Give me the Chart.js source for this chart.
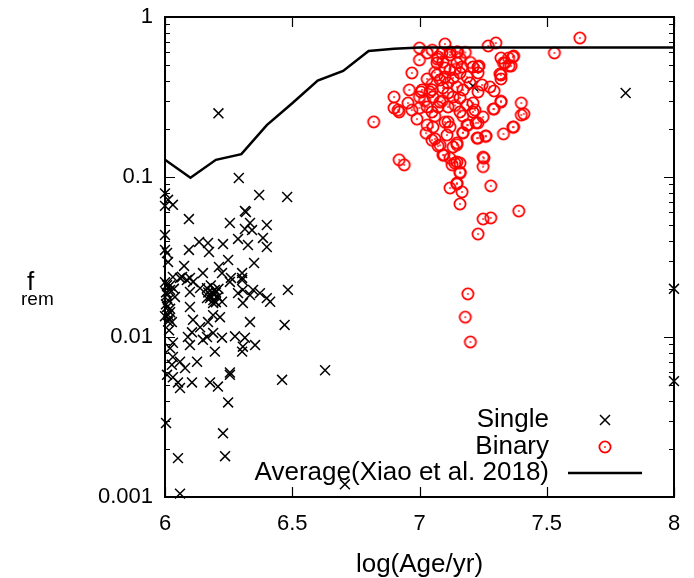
<!DOCTYPE html>
<html>
<head>
<meta charset="utf-8">
<script src="https://cdn.jsdelivr.net/npm/chart.js@4"></script>
<style>
  html, body { margin: 0; padding: 0; background: #fff; }
  canvas { display: block; }
</style>
</head>
<body>
<canvas id="frem" width="694" height="578"></canvas>
<script>
// f_rem versus log(Age/yr): single stars, binaries and the Xiao et al. (2018) average

const xTicks = [6, 6.5, 7, 7.5, 8];
const yTicks = [0.001, 0.01, 0.1, 1];

// average curve (black line)
const avgAge = [6.0, 6.1, 6.2, 6.3, 6.4, 6.5, 6.6, 6.7, 6.8, 6.9, 7.0, 7.1, 7.2, 7.3, 7.4, 7.5, 7.6, 7.7, 7.8, 7.9, 8.0];
const avgFrem = [0.128, 0.099, 0.128, 0.139, 0.211, 0.289, 0.40, 0.46, 0.613, 0.634, 0.645, 0.645, 0.645, 0.645, 0.645, 0.645, 0.645, 0.645, 0.645, 0.645, 0.645];

// single stars [log age, f_rem]
const singlePts = [
  [6.21, 0.25], [6.29, 0.0986], [6.37, 0.0772], [6.48, 0.075], [6.00, 0.079], [6.012, 0.072], [6.031, 0.067], [6.00, 0.066],
  [6.094, 0.0546], [6.318, 0.0604], [6.314, 0.0613], [6.255, 0.0516], [6.334, 0.0516], [6.40, 0.0501], [6.314, 0.0473],
  [6.342, 0.0466], [6.00, 0.0434], [6.287, 0.041], [6.385, 0.0416], [6.134, 0.0393], [6.169, 0.0387], [6.228, 0.0381],
  [6.326, 0.0376], [6.40, 0.0365], [6.094, 0.035], [6.173, 0.034], [6.00, 0.035], [6.008, 0.0335], [6.248, 0.0303],
  [6.012, 0.0294], [6.35, 0.029], [6.075, 0.0278], [6.212, 0.0274], [6.149, 0.0251], [6.303, 0.0251], [6.224, 0.0251],
  [6.031, 0.0237], [6.067, 0.0237], [6.098, 0.0234], [6.259, 0.0234], [6.303, 0.0234],
  [6.008, 0.0211], [6.02, 0.0197], [6.008, 0.0183], [6.039, 0.0178], [6.059, 0.0234], [6.086, 0.0227], [6.11, 0.0221],
  [6.138, 0.0202], [6.098, 0.0191], [6.165, 0.0202], [6.185, 0.0191], [6.196, 0.0197], [6.177, 0.0175], [6.208, 0.0178],
  [6.224, 0.0166], [6.189, 0.0163], [6.255, 0.0221], [6.303, 0.0227], [6.306, 0.0197], [6.287, 0.0188], [6.346, 0.0197],
  [6.334, 0.0183], [6.373, 0.0188], [6.40, 0.0175], [6.413, 0.0166], [6.306, 0.0163], [6.483, 0.0197], [6.098, 0.0154],
  [6.216, 0.0133], [6.334, 0.0124], [6.11, 0.0128], [6.138, 0.0115], [6.169, 0.0124], [6.189, 0.0137], [6.47, 0.0119],
  [6.008, 0.0154], [6.012, 0.0137], [6.027, 0.0124], [6.02, 0.0143], [6.106, 0.0107], [6.09, 0.01], [6.165, 0.01],
  [6.189, 0.0106], [6.224, 0.0099], [6.275, 0.0101], [6.314, 0.0099], [6.149, 0.0096], [6.031, 0.0092], [6.02, 0.0085],
  [6.098, 0.0089], [6.306, 0.0087], [6.354, 0.0089], [6.196, 0.0081], [6.303, 0.0081], [6.031, 0.0075], [6.059, 0.007],
  [6.126, 0.007], [6.027, 0.0067], [6.079, 0.0064], [6.255, 0.006], [6.629, 0.0062],
  [6.008, 0.0058], [6.031, 0.0056], [6.051, 0.0052], [6.059, 0.0048], [6.106, 0.0052], [6.177, 0.0052], [6.208, 0.0049],
  [6.255, 0.0058], [6.46, 0.0054], [6.248, 0.0039], [6.004, 0.0029], [6.228, 0.0025], [6.051, 0.00175], [6.236, 0.0018],
  [6.059, 0.00105],
  [7.81, 0.335], [8.0, 0.02], [8.0, 0.0053], [6.707, 0.0012], [7.21, 0.37],
  [6.0, 0.022], [6.004, 0.016], [6.016, 0.013], [6.18, 0.018], [6.2, 0.019], [6.19, 0.017], [6.012, 0.0125], [6.02, 0.021],
  [6.004, 0.019], [6.012, 0.017], [6.02, 0.015], [6.0, 0.0135], [6.016, 0.011], [6.035, 0.02], [6.17, 0.019],
  [6.18, 0.021], [6.2, 0.0165], [6.21, 0.02], [6.19, 0.0185], [6.165, 0.0175]
];

// binaries [log age, f_rem]
const binaryPts = [
  [7.63, 0.739], [7.53, 0.596], [7.30, 0.688], [7.27, 0.659], [7.10, 0.678], [7.00, 0.64], [7.03, 0.596], [7.00, 0.539],
  [7.07, 0.546], [7.12, 0.605], [7.15, 0.605], [7.32, 0.554], [7.35, 0.554], [7.37, 0.57], [7.36, 0.494], [7.33, 0.516],
  [6.97, 0.447], [7.32, 0.434], [7.32, 0.41], [7.23, 0.487], [7.23, 0.447], [6.96, 0.35], [6.90, 0.316], [6.90, 0.27],
  [6.92, 0.255], [6.82, 0.221], [6.97, 0.262], [7.0, 0.27], [7.03, 0.274], [7.006, 0.34], [7.049, 0.35], [7.21, 0.255],
  [7.25, 0.237], [7.23, 0.218], [7.29, 0.266], [7.32, 0.294], [7.40, 0.29], [7.40, 0.244], [7.41, 0.248], [7.37, 0.205],
  [7.33, 0.186], [7.23, 0.175], [7.26, 0.18], [7.19, 0.211], [7.17, 0.189], [7.03, 0.211], [7.053, 0.205], [7.026, 0.188],
  [7.061, 0.173], [7.073, 0.156], [7.108, 0.183], [7.12, 0.205], [7.147, 0.163], [6.92, 0.128], [6.94, 0.119],
  [7.096, 0.137], [7.12, 0.131], [7.128, 0.119], [7.147, 0.124], [7.159, 0.122], [7.25, 0.133], [7.25, 0.116],
  [7.16, 0.106], [7.28, 0.088], [7.147, 0.0904], [7.12, 0.0853], [7.167, 0.0806], [7.159, 0.0678], [7.39, 0.0613],
  [7.25, 0.0546], [7.28, 0.0555], [7.23, 0.044], [7.19, 0.0186], [7.18, 0.0133], [7.20, 0.0093],
  [7.147, 0.604], [7.12, 0.579], [7.088, 0.596], [7.073, 0.562], [7.092, 0.523], [7.069, 0.516], [7.10, 0.48],
  [7.147, 0.516], [7.167, 0.487], [7.12, 0.466], [7.069, 0.434], [7.081, 0.404], [7.10, 0.422], [7.112, 0.387],
  [7.132, 0.416], [7.159, 0.447], [7.187, 0.422], [7.198, 0.387], [7.171, 0.35], [7.147, 0.365], [7.092, 0.36],
  [7.112, 0.335], [7.132, 0.316], [7.159, 0.312], [7.21, 0.487], [7.01, 0.35], [7.0, 0.316], [7.041, 0.34], [7.053, 0.316],
  [7.049, 0.255], [7.073, 0.274], [7.081, 0.294], [7.112, 0.274], [7.159, 0.255], [7.187, 0.282], [7.21, 0.29],
  [7.218, 0.262], [6.955, 0.29], [6.916, 0.262], [7.049, 0.17], [7.081, 0.158], [7.132, 0.154], [7.112, 0.221],
  [7.187, 0.211], [7.171, 0.189], [7.226, 0.175], [7.147, 0.159], [7.092, 0.137], [7.139, 0.122], [7.159, 0.107],
  [7.147, 0.0916],
  [7.336, 0.516], [7.352, 0.494], [7.367, 0.562], [7.234, 0.494], [7.316, 0.44], [7.246, 0.376], [7.277, 0.365],
  [7.293, 0.345], [7.23, 0.34], [7.32, 0.298], [7.293, 0.266], [7.222, 0.218], [7.367, 0.205], [7.261, 0.18], [7.253, 0.131],
  [7.05, 0.62], [7.16, 0.55], [7.18, 0.6], [7.2, 0.52], [7.14, 0.47], [7.06, 0.45], [7.03, 0.41], [7.05, 0.38],
  [7.09, 0.3], [7.14, 0.28], [7.06, 0.24], [7.1, 0.22], [7.17, 0.24], [6.99, 0.23], [7.02, 0.3]
];

const FONT = '"Liberation Sans", Arial, sans-serif';

// red open circle with a dot in the middle (gnuplot point type 6-ish)
function makeCircleDot() {
  const c = document.createElement('canvas');
  c.width = 16; c.height = 16;
  const g = c.getContext('2d');
  g.strokeStyle = '#ff0000';
  g.lineWidth = 1.8;
  g.beginPath();
  g.arc(8, 8, 5.6, 0, Math.PI * 2);
  g.stroke();
  g.fillStyle = '#ff0000';
  g.fillRect(7.2, 7.2, 1.6, 1.6);
  return c;
}
const circleDot = makeCircleDot();

// frame, inward ticks, axis titles and legend, gnuplot style
const decorPlugin = {
  id: 'decor',
  afterDraw(chart) {
    const ctx = chart.ctx;
    const a = chart.chartArea;
    const xs = chart.scales.x, ys = chart.scales.y;
    ctx.save();
    ctx.strokeStyle = '#000';

    // x ticks (bottom and top)
    ctx.lineWidth = 1.2;
    ctx.beginPath();
    xTicks.forEach(v => {
      const px = Math.round(xs.getPixelForValue(v)) + 0.5;
      ctx.moveTo(px, a.bottom); ctx.lineTo(px, a.bottom - 10);
      ctx.moveTo(px, a.top); ctx.lineTo(px, a.top + 10);
    });
    // y ticks, major and minor (left and right)
    yTicks.forEach((v, i) => {
      const py = Math.round(ys.getPixelForValue(v)) + 0.5;
      ctx.moveTo(a.left, py); ctx.lineTo(a.left + 10, py);
      ctx.moveTo(a.right, py); ctx.lineTo(a.right - 10, py);
      if (i < yTicks.length - 1) {
        for (let m = 2; m <= 9; m++) {
          const pm = Math.round(ys.getPixelForValue(v * m)) + 0.5;
          ctx.moveTo(a.left, pm); ctx.lineTo(a.left + 5, pm);
          ctx.moveTo(a.right, pm); ctx.lineTo(a.right - 5, pm);
        }
      }
    });
    ctx.stroke();

    // frame
    ctx.lineWidth = 2;
    ctx.strokeRect(a.left, a.top, a.right - a.left, a.bottom - a.top);

    // axis titles
    ctx.fillStyle = '#000';
    ctx.textBaseline = 'alphabetic';
    ctx.textAlign = 'center';
    ctx.font = '26px ' + FONT;
    ctx.fillText('log(Age/yr)', (a.left + a.right) / 2, 572);
    ctx.textAlign = 'left';
    ctx.fillText('f', 27, 290);
    ctx.font = '19px ' + FONT;
    ctx.fillText('rem', 21, 305);

    // legend, text right-aligned with the sample on the right
    ctx.font = '26px ' + FONT;
    ctx.textAlign = 'right';
    ctx.textBaseline = 'middle';
    const rows = [['Single', 420], ['Binary', 447], ['Average(Xiao et al. 2018)', 473]];
    rows.forEach(r => ctx.fillText(r[0], 549, r[1]));
    // single sample
    ctx.lineWidth = 1.5;
    ctx.beginPath();
    ctx.moveTo(600, 415); ctx.lineTo(610, 425);
    ctx.moveTo(610, 415); ctx.lineTo(600, 425);
    ctx.stroke();
    // binary sample
    ctx.drawImage(circleDot, 605 - 8, 447 - 8);
    // line sample
    ctx.lineWidth = 2.5;
    ctx.beginPath();
    ctx.moveTo(568, 473); ctx.lineTo(642, 473);
    ctx.stroke();
    ctx.restore();
  }
};

const toXY = pts => pts.map(p => ({ x: p[0], y: p[1] }));

new Chart(document.getElementById('frem'), {
  type: 'scatter',
  data: {
    datasets: [
      {
        label: 'Average(Xiao et al. 2018)',
        type: 'line',
        data: avgAge.map((x, i) => ({ x: x, y: avgFrem[i] })),
        borderColor: '#000',
        borderWidth: 2.5,
        pointRadius: 0,
        tension: 0,
        fill: false,
        order: 0
      },
      {
        label: 'Binary',
        data: toXY(binaryPts),
        pointStyle: circleDot,
        pointRadius: 8,
        clip: false,
        order: 1
      },
      {
        label: 'Single',
        data: toXY(singlePts),
        pointStyle: 'crossRot',
        pointRadius: 7,
        borderColor: '#000',
        backgroundColor: '#000',
        borderWidth: 1.5,
        clip: false,
        order: 2
      }
    ]
  },
  options: {
    responsive: false,
    animation: false,
    events: [],
    layout: { padding: { left: 0, right: 20, top: 17, bottom: 0 } },
    plugins: {
      legend: { display: false },
      tooltip: { enabled: false }
    },
    scales: {
      x: {
        type: 'linear',
        min: 6,
        max: 8,
        afterBuildTicks: s => { s.ticks = xTicks.map(v => ({ value: v })); },
        afterFit: s => { s.height = 81; s.paddingLeft = 0; s.paddingRight = 0; },
        grid: { display: false, drawTicks: false },
        border: { display: false },
        ticks: {
          color: '#000',
          font: { size: 22, family: FONT },
          padding: 14,
          maxRotation: 0,
          callback: v => String(v)
        }
      },
      y: {
        type: 'logarithmic',
        min: 0.001,
        max: 1,
        afterBuildTicks: s => { s.ticks = yTicks.map(v => ({ value: v })); },
        afterFit: s => { s.width = 165; s.paddingTop = 0; s.paddingBottom = 0; },
        grid: { display: false, drawTicks: false },
        border: { display: false },
        ticks: {
          color: '#000',
          font: { size: 22, family: FONT },
          padding: 12,
          autoSkip: false,
          callback: v => String(v)
        }
      }
    }
  },
  plugins: [decorPlugin]
});
</script>
</body>
</html>
